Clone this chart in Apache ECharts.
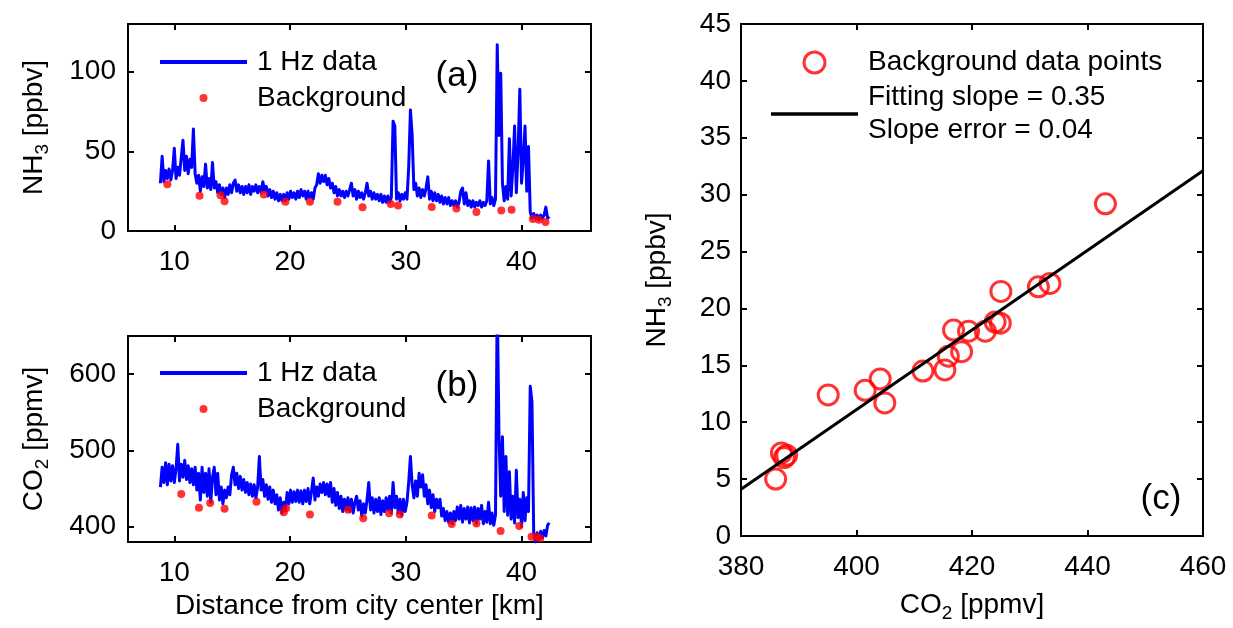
<!DOCTYPE html>
<html>
<head>
<meta charset="utf-8">
<title>NH3 and CO2 along the transect</title>
<script src="https://cdn.jsdelivr.net/npm/echarts@6/dist/echarts.min.js"></script>
<style>
  html, body { margin: 0; padding: 0; background: #ffffff; }
  #chart { width: 1233px; height: 628px; }
</style>
</head>
<body>
<div id="chart"></div>
<script>
// Distance along the transect for the 1 Hz record [km]
const trackKm = [
  8.8, 8.95, 9.1, 9.25, 9.4, 9.55, 9.7, 9.85, 10, 10.15,
  10.3, 10.45, 10.6, 10.75, 10.9, 11.05, 11.2, 11.35, 11.5, 11.65,
  11.8, 11.95, 12.1, 12.25, 12.4, 12.55, 12.7, 12.85, 13, 13.15,
  13.3, 13.45, 13.6, 13.75, 13.9, 14.05, 14.2, 14.35, 14.5, 14.65,
  14.8, 14.95, 15.1, 15.25, 15.4, 15.55, 15.7, 15.85, 16, 16.15,
  16.3, 16.45, 16.6, 16.75, 16.9, 17.05, 17.2, 17.35, 17.5, 17.65,
  17.8, 17.95, 18.1, 18.25, 18.4, 18.55, 18.7, 18.85, 19, 19.15,
  19.3, 19.45, 19.6, 19.75, 19.9, 20.05, 20.2, 20.35, 20.5, 20.65,
  20.8, 20.95, 21.1, 21.25, 21.4, 21.55, 21.7, 21.85, 22, 22.15,
  22.3, 22.45, 22.6, 22.75, 22.9, 23.05, 23.2, 23.35, 23.5, 23.65,
  23.8, 23.95, 24.1, 24.25, 24.4, 24.55, 24.7, 24.85, 25, 25.15,
  25.3, 25.45, 25.6, 25.75, 25.9, 26.05, 26.2, 26.35, 26.5, 26.65,
  26.8, 26.95, 27.1, 27.25, 27.4, 27.55, 27.7, 27.85, 28, 28.15,
  28.3, 28.45, 28.6, 28.75, 28.9, 29.05, 29.2, 29.35, 29.5, 29.65,
  29.8, 29.95, 30.1, 30.25, 30.4, 30.55, 30.7, 30.85, 31, 31.15,
  31.3, 31.45, 31.6, 31.75, 31.9, 32.05, 32.2, 32.35, 32.5, 32.65,
  32.8, 32.95, 33.1, 33.25, 33.4, 33.55, 33.7, 33.85, 34, 34.15,
  34.3, 34.45, 34.6, 34.75, 34.9, 35.05, 35.2, 35.35, 35.5, 35.65,
  35.8, 35.95, 36.1, 36.25, 36.4, 36.55, 36.7, 36.85, 37, 37.15,
  37.3, 37.45, 37.6, 37.75, 37.9, 38.05, 38.2, 38.35, 38.5, 38.65,
  38.8, 38.95, 39.1, 39.25, 39.4, 39.55, 39.7, 39.85, 40, 40.15,
  40.3, 40.45, 40.6, 40.75, 40.9, 41.05, 41.2, 41.35, 41.5, 41.65,
  41.8, 41.95, 42.1, 42.25, 42.4
];

// 1 Hz NH3 mixing ratio [ppbv]
const nh3Ppbv = [
  30, 47, 31, 38, 33, 39, 32, 38, 52, 33,
  40, 35, 46, 57, 38, 47, 36, 45, 40, 64,
  36, 30, 35, 25, 34, 28, 42, 27, 33, 26,
  43, 27, 31, 24, 29, 23, 27, 21, 27, 23,
  29, 24, 30, 32, 25, 29, 24, 28, 23, 28,
  24, 29, 23, 28, 25, 29, 24, 28, 24, 31,
  25, 28, 22, 26, 21, 25, 20, 24, 19, 23,
  19, 23, 19, 24, 20, 25, 21, 24, 20, 25,
  21, 26, 22, 25, 20, 25, 21, 24, 20, 27,
  29, 36, 30, 35, 31, 35, 29, 33, 27, 30,
  24, 28, 22, 26, 22, 25, 21, 25, 22, 26,
  30, 22, 26, 20, 25, 21, 24, 20, 24, 30,
  22, 25, 20, 24, 20, 23, 19, 23, 18, 22,
  18, 22, 18, 21, 69, 66, 20, 24, 19, 23,
  20, 24, 20, 40, 76, 60, 26, 30, 22, 27,
  21, 26, 22, 27, 34, 20, 25, 19, 24, 19,
  23, 18, 22, 17, 21, 17, 21, 16, 19, 16,
  19, 15, 18, 25, 27, 17, 24, 16, 19, 15,
  19, 15, 18, 16, 19, 15, 18, 16, 19, 44,
  17, 21, 16, 20, 117, 60, 99, 30, 19, 28,
  20, 58, 22, 40, 66, 24, 50, 89, 30, 45,
  66, 25, 53, 12, 8, 11, 8, 10, 7, 10,
  8, 10, 15, 8, 9
];

// 1 Hz CO2 mixing ratio [ppmv]
const co2Ppmv = [
  452, 478, 458, 484, 455, 482, 460, 480, 458, 476,
  508, 460, 482, 465, 487, 462, 480, 458, 476, 455,
  478, 448, 470, 435, 478, 445, 470, 440, 476, 432,
  465, 478, 442, 470, 435, 452, 430, 448, 438, 452,
  442, 468, 478, 455, 470, 450, 466, 448, 462, 445,
  458, 442, 456, 440, 455, 438, 452, 492, 448, 462,
  440, 455, 436, 452, 432, 448, 430, 442, 422, 438,
  418, 432, 422, 445, 430, 448, 432, 446, 433, 448,
  432, 447, 430, 448, 433, 450, 430, 446, 464, 435,
  452, 440, 456, 445, 458, 442, 456, 440, 458, 432,
  450, 428, 445, 424, 440, 420, 436, 422, 438, 420,
  436, 418, 432, 440, 422, 434, 414, 430, 418, 435,
  458, 422, 438, 418, 436, 420, 438, 416, 434, 420,
  438, 422, 440, 418, 458, 425, 440, 418, 436, 415,
  436, 420, 432, 458, 492, 455, 438, 460, 440, 470,
  452, 468, 440, 455, 430, 448, 425, 442, 420, 436,
  425, 436, 414, 424, 408, 420, 406, 418, 404, 420,
  408, 426, 410, 428, 406, 424, 410, 426, 405, 425,
  408, 426, 404, 424, 410, 428, 404, 420, 406, 432,
  404, 418, 402, 416, 700, 520, 440, 518, 420, 492,
  415, 472, 410, 440, 405, 474, 412, 436, 400, 445,
  408, 438, 420, 584, 564, 392, 380, 392, 383, 394,
  385, 395, 388, 402, 405
];

// Background NH3 points picked from the transect
const bgKmNh3 = [9.4, 12.18, 13.99, 14.34, 17.73, 19.6, 21.72, 24.1, 26.26, 28.7,
                 29.33, 32.24, 34.37, 36.1, 38.25, 39.14, 40.98, 41.5, 42.07];
const bgNh3 = [29.4, 22.1, 22.5, 18.7, 22.9, 18.3, 18.3, 18.3, 14.9, 17.0,
               16.0, 15.0, 14.2, 11.9, 12.8, 13.4, 7.6, 7.1, 5.6];

// Background CO2 points picked from the transect
const bgKmCo2 = [10.6, 12.13, 13.1, 14.34, 17.1, 19.46, 19.66, 21.72, 25.0, 26.32,
                 28.56, 29.48, 32.24, 33.97, 36.1, 38.19, 39.8, 40.86, 41.3, 41.6];
const bgCo2 = [442.9, 424.9, 431, 423.6, 432.8, 418.9, 424.3, 416.2, 422.3, 411,
               417.6, 415.9, 414.6, 403.5, 404.4, 394.4, 401.0, 386.9, 386.9, 384.8];

// Paired background values (CO2 vs NH3)
const pairCo2 = [386.0, 387.0, 387.5, 387.9, 395.1, 401.5, 404.1, 404.9, 411.5, 415.3,
                 415.9, 418.2, 416.8, 419.4, 422.3, 424.0, 424.9, 425.0, 431.5, 433.5, 443.1];
const pairNh3 = [5.0, 7.3, 6.9, 7.1, 12.4, 12.8, 13.8, 11.7, 14.5, 14.6,
                 15.8, 16.2, 18.1, 18.0, 18.0, 18.8, 18.7, 21.5, 21.9, 22.2, 29.2];

// Linear fit of NH3 against CO2
const fitSlope = 0.35;
const fitIntercept = -128.9;
const fitSlopeError = 0.04;
const fitRange = [380, 460];

// Axis ticks
const kmTicks = [10, 20, 30, 40];
const nh3Ticks = [0, 50, 100];
const co2Ticks = [400, 500, 600];

const FONT = '"Liberation Sans", Arial, Helvetica, sans-serif';
const FS = 28;
const BLUE = '#0000ff';
const RED = '#ff0000';
// thin bars used as the legend markers of line series
const LINE_ICON = 'path://M0,0h87v4h-87z';
const FIT_ICON = 'path://M0,0h87v3.5h-87z';

const zip = (a, b) => a.map((v, i) => [v, b[i]]);
const fitLabel = 'Fitting slope = ' + fitSlope.toFixed(2) + '\nSlope error = ' + fitSlopeError.toFixed(2);

const axisLineStyle = { show: true, onZero: false, lineStyle: { color: '#000', width: 2 } };
const tickStyle = (vals) => {
  const t = { show: true, inside: true, length: 6, lineStyle: { color: '#000', width: 2 } };
  if (vals) t.customValues = vals;
  return t;
};
const labelStyle = (margin, vals) => {
  const l = { show: true, color: '#000', fontSize: FS, fontFamily: FONT, margin: margin };
  if (vals) l.customValues = vals;
  return l;
};
const subRich = {
  m: { fontSize: FS, fontFamily: FONT, color: '#000' },
  s: { fontSize: 19, fontFamily: FONT, color: '#000', padding: [16, 0, 0, 0] }
};

// Build a main axis plus its mirrored partner (box with ticks on all sides)
function xPair(grid, min, max, extra, ticks) {
  const main = Object.assign({
    type: 'value', gridIndex: grid, min: min, max: max, position: 'bottom',
    axisLine: axisLineStyle, axisTick: tickStyle(ticks), axisLabel: labelStyle(17, ticks),
    splitLine: { show: false }
  }, extra || {});
  const mirror = {
    type: 'value', gridIndex: grid, min: min, max: max, position: 'top',
    interval: main.interval,
    axisLine: axisLineStyle, axisTick: tickStyle(ticks), axisLabel: { show: false },
    splitLine: { show: false }
  };
  return [main, mirror];
}
function yPair(grid, min, max, extra, ticks, margin) {
  const main = Object.assign({
    type: 'value', gridIndex: grid, min: min, max: max, position: 'left',
    axisLine: axisLineStyle, axisTick: tickStyle(ticks), axisLabel: labelStyle(margin, ticks),
    splitLine: { show: false }
  }, extra || {});
  const mirror = {
    type: 'value', gridIndex: grid, min: min, max: max, position: 'right',
    interval: main.interval,
    axisLine: axisLineStyle, axisTick: tickStyle(ticks), axisLabel: { show: false },
    splitLine: { show: false }
  };
  return [main, mirror];
}

const xAxes = [].concat(
  xPair(0, 6, 46, null, kmTicks),
  xPair(1, 6, 46, {
    name: 'Distance from city center [km]', nameLocation: 'middle', nameGap: 50,
    nameTextStyle: { fontSize: FS, fontFamily: FONT, color: '#000' }
  }, kmTicks),
  xPair(2, 380, 460, {
    interval: 20,
    name: '{m|CO}{s|2}{m| [ppmv]}', nameLocation: 'middle', nameGap: 52,
    nameTextStyle: { rich: subRich }
  })
);
const yAxes = [].concat(
  yPair(0, 0, 130, {
    name: '{m|NH}{s|3}{m| [ppbv]}', nameLocation: 'middle', nameGap: 76, nameRotate: 90,
    nameTextStyle: { rich: subRich }
  }, nh3Ticks, 12),
  yPair(1, 380, 650, {
    name: '{m|CO}{s|2}{m| [ppmv]}', nameLocation: 'middle', nameGap: 76, nameRotate: 90,
    nameTextStyle: { rich: subRich }
  }, co2Ticks, 12),
  yPair(2, 0, 45, {
    interval: 5,
    name: '{m|NH}{s|3}{m| [ppbv]}', nameLocation: 'middle', nameGap: 66, nameRotate: 90,
    nameTextStyle: { rich: subRich }
  }, null, 10)
);

const legendText = { fontSize: FS, fontFamily: FONT, color: '#000', lineHeight: 32, padding: [0, 0, 0, 5] };
const panelTag = { fontSize: 35, fontWeight: 'normal', fontFamily: FONT, color: '#000' };

const option = {
  animation: false,
  backgroundColor: '#ffffff',
  grid: [
    { left: 128, top: 24, width: 463, height: 207 },
    { left: 128, top: 336, width: 463, height: 206 },
    { left: 741, top: 24, width: 462, height: 518 }
  ],
  xAxis: xAxes,
  yAxis: yAxes,
  title: [
    { text: '(a)', left: 452, top: 71, textAlign: 'center', textVerticalAlign: 'middle', textStyle: panelTag },
    { text: '(b)', left: 452, top: 381, textAlign: 'center', textVerticalAlign: 'middle', textStyle: panelTag },
    { text: '(c)', left: 1156, top: 494, textAlign: 'center', textVerticalAlign: 'middle', textStyle: panelTag }
  ],
  legend: [
    { orient: 'vertical', left: 160, top: 46, itemWidth: 87, itemHeight: 8, itemGap: 4,
      padding: 0, textStyle: legendText, selectedMode: false,
      data: [
        { name: 'NH3 1 Hz data', icon: LINE_ICON },
        { name: 'NH3 Background', icon: 'circle' }
      ],
      formatter: (n) => n.replace('NH3 ', '') },
    { orient: 'vertical', left: 160, top: 357, itemWidth: 87, itemHeight: 8, itemGap: 4,
      padding: 0, textStyle: legendText, selectedMode: false,
      data: [
        { name: 'CO2 1 Hz data', icon: LINE_ICON },
        { name: 'CO2 Background', icon: 'circle' }
      ],
      formatter: (n) => n.replace('CO2 ', '') },
    { orient: 'vertical', left: 771, top: 46, itemWidth: 87, itemHeight: 21, itemGap: 2,
      padding: 0, selectedMode: false,
      textStyle: { fontSize: FS, fontFamily: FONT, color: '#000', lineHeight: 33, padding: [0, 0, 0, 5] },
      data: [
        { name: 'Background data points', icon: 'circle',
          itemStyle: { color: 'rgba(0,0,0,0)', borderColor: RED, borderWidth: 3 } },
        { name: fitLabel, icon: FIT_ICON, itemStyle: { color: '#000', borderWidth: 0 } }
      ] }
  ],
  series: [
    { name: 'NH3 1 Hz data', type: 'line', xAxisIndex: 0, yAxisIndex: 0,
      data: zip(trackKm, nh3Ppbv), symbol: 'none',
      lineStyle: { color: BLUE, width: 3, join: 'round' }, itemStyle: { color: BLUE }, z: 2 },
    { name: 'NH3 Background', type: 'scatter', xAxisIndex: 0, yAxisIndex: 0,
      data: zip(bgKmNh3, bgNh3), symbol: 'circle', symbolSize: 8,
      itemStyle: { color: RED }, z: 3 },
    { name: 'CO2 1 Hz data', type: 'line', xAxisIndex: 2, yAxisIndex: 2,
      data: zip(trackKm, co2Ppmv), symbol: 'none',
      lineStyle: { color: BLUE, width: 3, join: 'round' }, itemStyle: { color: BLUE }, z: 2 },
    { name: 'CO2 Background', type: 'scatter', xAxisIndex: 2, yAxisIndex: 2,
      data: zip(bgKmCo2, bgCo2), symbol: 'circle', symbolSize: 8,
      itemStyle: { color: RED }, z: 3 },
    { name: 'Background data points', type: 'scatter', xAxisIndex: 4, yAxisIndex: 4,
      data: zip(pairCo2, pairNh3), symbol: 'circle', symbolSize: 20,
      itemStyle: { color: 'rgba(0,0,0,0)', borderColor: RED, borderWidth: 3 }, z: 2 },
    { name: fitLabel, type: 'line', xAxisIndex: 4, yAxisIndex: 4,
      data: fitRange.map((c) => [c, fitSlope * c + fitIntercept]), symbol: 'none',
      lineStyle: { color: '#000', width: 3 }, itemStyle: { color: '#000' }, z: 3 }
  ]
};

const chart = echarts.init(document.getElementById('chart'), null, { renderer: 'canvas' });
chart.setOption(option);
</script>
</body>
</html>
